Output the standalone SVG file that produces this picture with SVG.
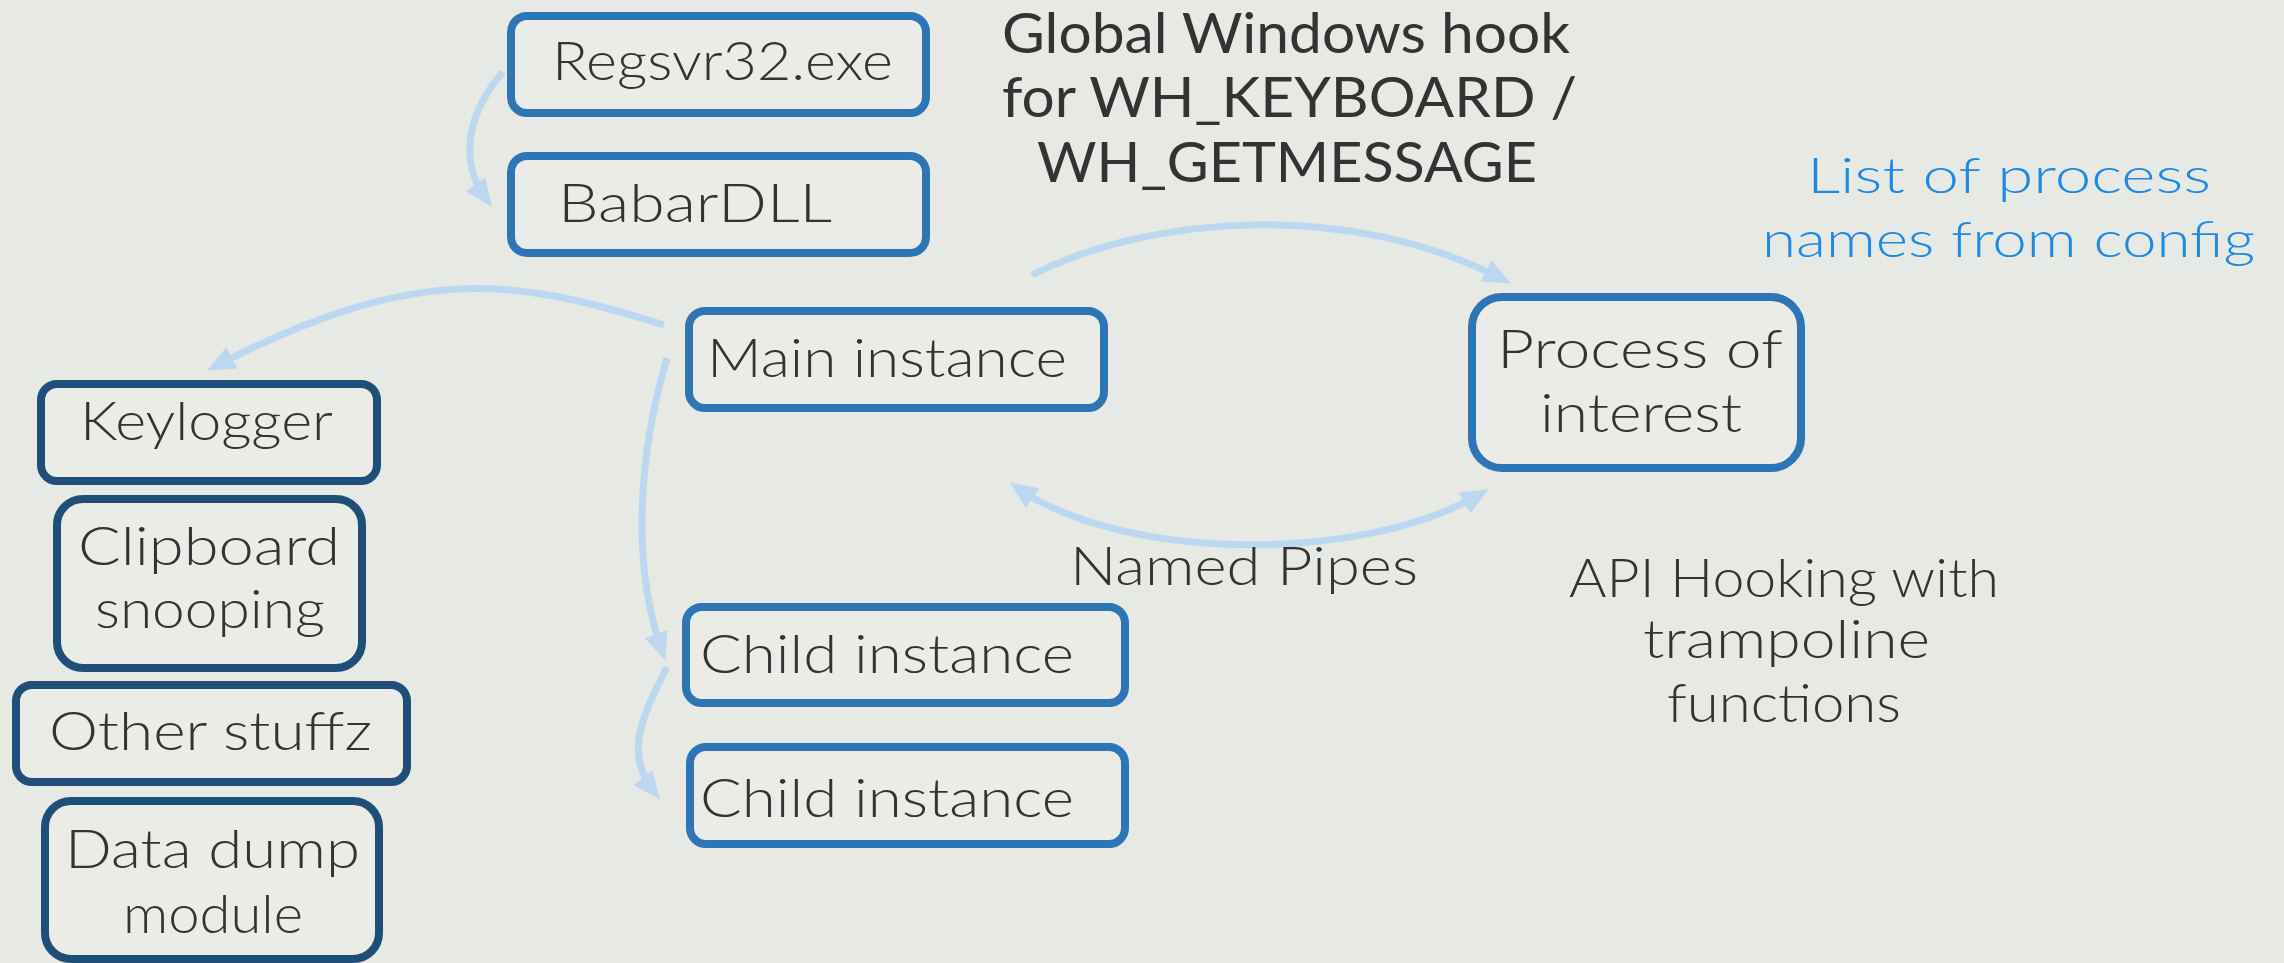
<svg xmlns="http://www.w3.org/2000/svg" width="2284" height="963" viewBox="0 0 2284 963">
<defs>
<style>
.bg{fill:#e7e9e4}
.box{fill:#eaece7;stroke:#2e75b6;stroke-width:8}
.box2{fill:#eaece7;stroke:#1f4e79;stroke-width:8}
.t{font-family:Lato,"Liberation Sans",sans-serif;font-weight:300;font-size:53px;fill:#333}
.h{font-family:Lato,"Liberation Sans",sans-serif;font-weight:400;font-size:57px;fill:#333}
.b{font-family:Lato,"Liberation Sans",sans-serif;font-weight:300;font-size:50px;fill:#1e88e5}
.c{fill:none;stroke:#bcd7ef;stroke-width:7}
</style>
<marker id="ah" viewBox="0 0 28 24" refX="18" refY="12" markerWidth="28" markerHeight="24" markerUnits="userSpaceOnUse" orient="auto-start-reverse">
<path d="M0,0 L28,12 L0,24 z" fill="#bcd7ef"/>
</marker>
</defs>
<rect class="bg" x="0" y="0" width="2284" height="963"/>

<g id="connectors">
<path class="c" d="M503,72 C468,112 458,160 486,199" marker-end="url(#ah)"/>
<path class="c" d="M664,325 C520,280 420,260 216,366" marker-end="url(#ah)"/>
<path class="c" d="M1032,275 C1150,215 1350,200 1502,279" marker-end="url(#ah)"/>
<path class="c" d="M1018,488 C1120,560 1360,565 1480,494" marker-start="url(#ah)" marker-end="url(#ah)"/>
<path class="c" d="M667,358 C640,450 630,560 662,651" marker-end="url(#ah)"/>
<path class="c" d="M667,667 C640,720 625,755 654,792" marker-end="url(#ah)"/>
</g>

<g id="regsvr">
<rect class="box" x="511" y="16" width="415" height="97" rx="16"/>
<text class="t" x="552" y="80" textLength="341" lengthAdjust="spacingAndGlyphs">Regsvr32.exe</text>
</g>
<g id="babardll">
<rect class="box" x="511" y="156" width="415" height="97" rx="16"/>
<text class="t" x="558" y="222" textLength="274" lengthAdjust="spacingAndGlyphs">BabarDLL</text>
</g>
<g id="hook-label">
<text class="h" x="1002" y="53" textLength="568" lengthAdjust="spacingAndGlyphs">Global Windows hook</text>
<text class="h" x="1002" y="117" textLength="575" lengthAdjust="spacingAndGlyphs">for WH_KEYBOARD /</text>
<text class="h" x="1037" y="182" textLength="500" lengthAdjust="spacingAndGlyphs">WH_GETMESSAGE</text>
</g>
<g id="config-label">
<text class="b" x="1807" y="193" textLength="404" lengthAdjust="spacingAndGlyphs">List of process</text>
<text class="b" x="1762" y="257" textLength="493" lengthAdjust="spacingAndGlyphs">names from config</text>
</g>
<g id="main">
<rect class="box" x="689" y="311" width="415" height="97" rx="16"/>
<text class="t" x="707" y="377" textLength="360" lengthAdjust="spacingAndGlyphs">Main instance</text>
</g>
<g id="process">
<rect class="box" x="1472" y="297" width="329" height="171" rx="30"/>
<text class="t" x="1497" y="368" textLength="286" lengthAdjust="spacingAndGlyphs">Process of</text>
<text class="t" x="1540" y="432" textLength="202" lengthAdjust="spacingAndGlyphs">interest</text>
</g>
<g id="keylogger">
<rect class="box2" x="41" y="384" width="336" height="97" rx="16"/>
<text class="t" x="80" y="440" textLength="253" lengthAdjust="spacingAndGlyphs">Keylogger</text>
</g>
<g id="clipboard">
<rect class="box2" x="57" y="499" width="305" height="169" rx="26"/>
<text class="t" x="78" y="565" textLength="262" lengthAdjust="spacingAndGlyphs">Clipboard</text>
<text class="t" x="95" y="628" textLength="230" lengthAdjust="spacingAndGlyphs">snooping</text>
</g>
<g id="other">
<rect class="box2" x="16" y="685" width="391" height="97" rx="16"/>
<text class="t" x="49" y="750" textLength="323" lengthAdjust="spacingAndGlyphs">Other stuffz</text>
</g>
<g id="datadump">
<rect class="box2" x="45" y="801" width="334" height="158" rx="26"/>
<text class="t" x="65" y="868" textLength="295" lengthAdjust="spacingAndGlyphs">Data dump</text>
<text class="t" x="123" y="933" textLength="180" lengthAdjust="spacingAndGlyphs">module</text>
</g>
<g id="child1">
<rect class="box" x="686" y="607" width="439" height="96" rx="16"/>
<text class="t" x="700" y="673" textLength="374" lengthAdjust="spacingAndGlyphs">Child instance</text>
</g>
<g id="child2">
<rect class="box" x="690" y="747" width="435" height="97" rx="16"/>
<text class="t" x="700" y="817" textLength="374" lengthAdjust="spacingAndGlyphs">Child instance</text>
</g>
<g id="pipes-label">
<text class="t" x="1070" y="585" textLength="348" lengthAdjust="spacingAndGlyphs">Named Pipes</text>
</g>
<g id="api-label">
<text class="t" x="1569" y="597" textLength="430" lengthAdjust="spacingAndGlyphs">API Hooking with</text>
<text class="t" x="1643" y="658" textLength="287" lengthAdjust="spacingAndGlyphs">trampoline</text>
<text class="t" x="1667" y="722" textLength="234" lengthAdjust="spacingAndGlyphs">functions</text>
</g>
</svg>
